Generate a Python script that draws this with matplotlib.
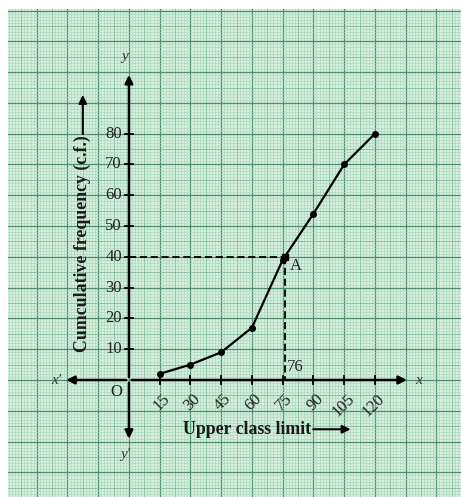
import numpy as np
import matplotlib.pyplot as plt

# données
upper_limit = [15, 30, 45, 60, 75, 90, 105, 120]
cum_freq = [2, 5, 9, 17, 39, 54, 70, 80]
y_ticks = [10, 20, 30, 40, 50, 60, 70, 80]
median_x = 76
half_n = 40

plt.rcParams['font.family'] = ['Liberation Serif', 'DejaVu Serif']

fig = plt.figure(figsize=(4.61, 4.97), dpi=100)
ax = fig.add_axes([8 / 461, 0, 453 / 461, 488 / 497])
ax.set_xlim(-59, 162)
ax.set_ylim(-38, 120.5)
ax.set_facecolor('#d6efdf')
for s in ax.spines.values():
    s.set_visible(False)
ax.set_xticks([])
ax.set_yticks([])

# papier millimétré
for i, gx in enumerate(np.arange(-60, 163, 1.5)):
    k = i % 10
    if k == 0:
        ax.axvline(gx, color='#4f8c6c', lw=0.9, zorder=1)
    elif k == 5:
        ax.axvline(gx, color='#80bb99', lw=0.6, zorder=1)
    else:
        ax.axvline(gx, color='#a8d6ba', lw=0.45, zorder=1)
for gy in np.arange(-40, 121, 1):
    k = int(round(gy)) % 10
    if k == 0:
        ax.axhline(gy, color='#4f8c6c', lw=0.9, zorder=1)
    elif k == 5:
        ax.axhline(gy, color='#80bb99', lw=0.6, zorder=1)
    else:
        ax.axhline(gy, color='#a8d6ba', lw=0.45, zorder=1)

# axes avec flèches
arrow = dict(arrowstyle='-|>', color='black', lw=1.8, mutation_scale=12)
ax.annotate('', xy=(137, 0), xytext=(0, 0), arrowprops=arrow, zorder=4)
ax.annotate('', xy=(-32, 0), xytext=(0, 0), arrowprops=arrow, zorder=4)
ax.annotate('', xy=(0, 100), xytext=(0, 0), arrowprops=arrow, zorder=4)
ax.annotate('', xy=(0, -20), xytext=(0, 0), arrowprops=arrow, zorder=4)
ax.text(139.5, 0, 'x', style='italic', fontsize=11, va='center', ha='left', color='#333')
ax.text(-33, 0, "x'", style='italic', fontsize=11, va='center', ha='right', color='#333')
ax.text(-2, 103, 'y', style='italic', fontsize=11, va='bottom', ha='center', color='#333')
ax.text(-2, -22, "y'", style='italic', fontsize=11, va='top', ha='center', color='#333')
ax.text(-6, -4, 'O', fontsize=12, va='center', ha='center', color='#222')

# graduations
for v in y_ticks:
    ax.plot([-2, 2], [v, v], color='black', lw=1.3, zorder=4)
    ax.text(-3.5, v, str(v), fontsize=12, ha='right', va='center', color='#222')
for v in upper_limit:
    ax.plot([v, v], [-1.3, 1.3], color='black', lw=1.3, zorder=4)
    ax.text(v + 1, -3.5, str(v), fontsize=12, ha='right', va='top',
            rotation=45, rotation_mode='anchor', color='#222')

# courbe cumulative
ax.plot(upper_limit, cum_freq, color='black', lw=1.6, marker='o', ms=4, zorder=5)

# médiane
ax.plot([0, median_x], [half_n, half_n], color='black', lw=1.3, ls='--', dashes=(4, 2), zorder=4)
ax.plot([median_x, median_x], [half_n, 0], color='black', lw=1.3, ls='--', dashes=(4, 2), zorder=4)
ax.plot([median_x], [half_n], marker='s', color='black', ms=4, zorder=5)
ax.text(median_x + 2.5, half_n - 0.5, 'A', fontsize=12, ha='left', va='top', color='#222')
ax.text(median_x + 1, 1.5, '76', fontsize=12, ha='left', va='bottom', color='#222')

# titres des axes
ax.text(-22.5, 44.3, 'Cumculative frequency (c.f.)', rotation=90, fontsize=12.8,
        fontweight='bold', ha='center', va='center', color='#1a1a1a')
ax.annotate('', xy=(-22.5, 93.5), xytext=(-22.5, 79),
            arrowprops=dict(arrowstyle='-|>', color='black', lw=1.5, mutation_scale=12))
ax.text(57.6, -16, 'Upper class limit', fontsize=12.8, fontweight='bold',
        ha='center', va='center', color='#1a1a1a')
ax.annotate('', xy=(109.5, -16), xytext=(88.5, -16),
            arrowprops=dict(arrowstyle='-|>', color='black', lw=1.5, mutation_scale=12))

fig.savefig('out.png', dpi=100)
